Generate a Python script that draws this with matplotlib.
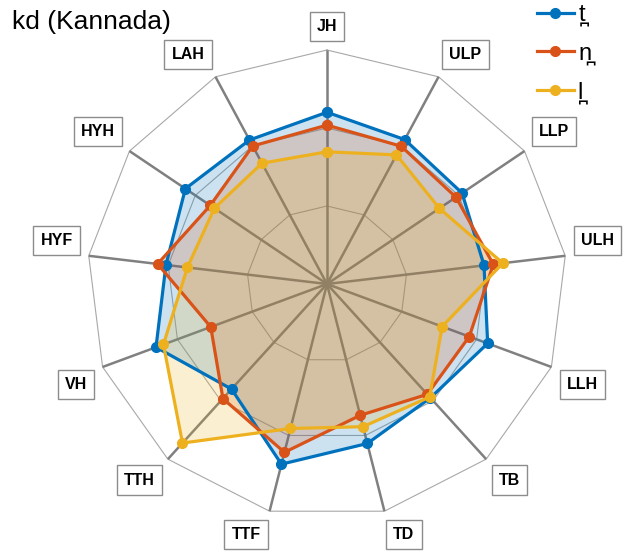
import numpy as np
import matplotlib
matplotlib.use('Agg')
import matplotlib.pyplot as plt

# ---- data ----
axes_labels = ['JH', 'ULP', 'LLP', 'ULH', 'LLH', 'TB', 'TD', 'TTF', 'TTH', 'VH', 'HYF', 'HYH', 'LAH']
series_names = ['t\u032a', 'n\u032a', 'l\u032a']
vals_t = [0.734, 0.697, 0.684, 0.659, 0.716, 0.650, 0.702, 0.793, 0.600, 0.762, 0.676, 0.717, 0.695]
vals_n = [0.679, 0.665, 0.653, 0.698, 0.634, 0.630, 0.578, 0.741, 0.654, 0.518, 0.711, 0.591, 0.666]
vals_l = [0.565, 0.623, 0.569, 0.738, 0.513, 0.645, 0.628, 0.636, 0.908, 0.729, 0.586, 0.570, 0.583]
web_levels = [1/3, 2/3, 1.0]
title = 'kd (Kannada)'

colors = ['#0072BD', '#D95319', '#EDB120']
FONT = ['Liberation Sans', 'DejaVu Sans']
plt.rcParams['font.family'] = FONT

W, H = 626, 554
fig = plt.figure(figsize=(W / 100, H / 100), dpi=100)
ax = fig.add_axes([0, 0, 1, 1])
cx, cy = 327, 284
sx, sy = 240, 234
ax.set_xlim(-cx / sx, (W - cx) / sx)
ax.set_ylim(-(H - cy) / sy, cy / sy)
ax.axis('off')

n = len(axes_labels)
theta = np.deg2rad(90 - np.arange(n) * 360 / n)
ct, st = np.cos(theta), np.sin(theta)

# web rings
for lev in web_levels:
    ax.plot(np.append(ct, ct[0]) * lev, np.append(st, st[0]) * lev,
            color='#a8a8a8', lw=0.8, zorder=1)
# spokes
for c, s in zip(ct, st):
    ax.plot([0, c], [0, s], color='#808080', lw=1.8, zorder=1.5, solid_capstyle='butt')

# series
handles = []
for vals, col, name in zip([vals_t, vals_n, vals_l], colors, series_names):
    v = np.array(vals)
    x = np.append(v * ct, v[0] * ct[0])
    y = np.append(v * st, v[0] * st[0])
    ax.fill(x, y, color=col, alpha=0.2, lw=0, zorder=2)
    ln, = ax.plot(x, y, color=col, lw=2.3, marker='o', markersize=7, zorder=3, label=name)
    handles.append(ln)

# axis labels
pad_pt = 6.5 * 0.72
for lab, c, s in zip(axes_labels, ct, st):
    if abs(c) < 0.05:
        ha, dx = 'center', 0
    elif c > 0:
        ha, dx = 'left', pad_pt
    else:
        ha, dx = 'right', -pad_pt
    if s > 0:
        va, dy = 'bottom', pad_pt
    else:
        va, dy = 'top', -pad_pt
    r = 1.04
    ax.annotate(lab, xy=(r * c, r * s), xytext=(dx, dy), textcoords='offset points',
                ha=ha, va=va, fontsize=11.5, fontweight='bold', color='black',
                bbox=dict(boxstyle='square,pad=0.45', fc='white', ec='#8c8c8c', lw=1),
                zorder=5)

# title
fig.text(12 / W, 1 - 29 / H, title, fontsize=19, va='baseline', ha='left')

# legend
leg = ax.legend(handles=handles, loc='upper left', bbox_to_anchor=(537 / W, 1 - 4 / H),
                bbox_transform=fig.transFigure, frameon=False, fontsize=17,
                handlelength=1.55, handletextpad=0.2, labelspacing=0.68,
                borderpad=0, borderaxespad=0)

fig.savefig('out.png', dpi=100)
